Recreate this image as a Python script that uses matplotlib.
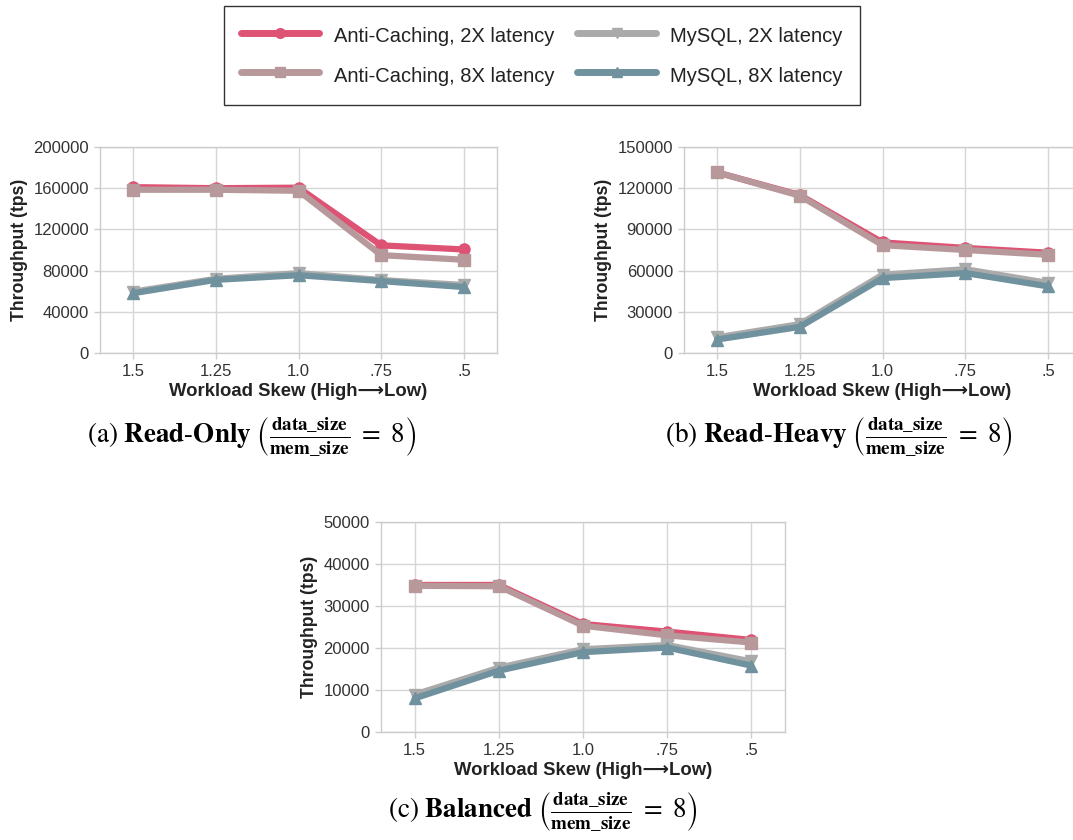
import matplotlib
matplotlib.use("Agg")
import matplotlib.pyplot as plt
from matplotlib.lines import Line2D

plt.rcParams['mathtext.fontset'] = 'stix'

categories = ["1.5", "1.25", "1.0", ".75", ".5"]
series_names = ["Anti-Caching, 2X latency", "Anti-Caching, 8X latency",
                "MySQL, 2X latency", "MySQL, 8X latency"]

# Read-Only
ro_ac2 = [161000, 160000, 160500, 104500, 100500]
ro_ac8 = [158500, 158500, 157500, 95000, 90500]
ro_my2 = [59500, 72000, 77500, 70800, 66000]
ro_my8 = [58000, 71000, 75500, 69800, 64000]

# Read-Heavy
rh_ac2 = [131500, 115000, 80500, 76500, 73000]
rh_ac8 = [131500, 114500, 78500, 75000, 71500]
rh_my2 = [11400, 21000, 57000, 61000, 51000]
rh_my8 = [9800, 19000, 54500, 58200, 48500]

# Balanced
ba_ac2 = [35000, 35000, 25700, 23900, 21900]
ba_ac8 = [34800, 34700, 25300, 23000, 21300]
ba_my2 = [8900, 15300, 19700, 20700, 16800]
ba_my8 = [8000, 14600, 19000, 20100, 15800]

yticks_ro = [0, 40000, 80000, 120000, 160000, 200000]
yticks_rh = [0, 30000, 60000, 90000, 120000, 150000]
yticks_ba = [0, 10000, 20000, 30000, 40000, 50000]

titles = [
    r"$\mathrm{(a)}\ \mathbf{Read}\text{-}\mathbf{Only}\ \left(\frac{\mathbf{data\_size}}{\mathbf{mem\_size}}\ =\ 8\right)$",
    r"$\mathrm{(b)}\ \mathbf{Read}\text{-}\mathbf{Heavy}\ \left(\frac{\mathbf{data\_size}}{\mathbf{mem\_size}}\ =\ 8\right)$",
    r"$\mathrm{(c)}\ \mathbf{Balanced}\ \left(\frac{\mathbf{data\_size}}{\mathbf{mem\_size}}\ =\ 8\right)$",
]

colors = ["#DE5273", "#B8999B", "#AAAAAA", "#6F929E"]
markers = ["o", "s", "v", "^"]

sans = ['Liberation Sans', 'DejaVu Sans']

fig = plt.figure(figsize=(10.73, 8.40), dpi=100)

axes_rects = [
    [0.0932, 0.5798, 0.370, 0.2452],
    [0.6375, 0.5798, 0.370, 0.2452],
    [0.3551, 0.1286, 0.3765, 0.2500],
]
datasets = [
    ([ro_ac2, ro_ac8, ro_my2, ro_my8], yticks_ro),
    ([rh_ac2, rh_ac8, rh_my2, rh_my8], yticks_rh),
    ([ba_ac2, ba_ac8, ba_my2, ba_my8], yticks_ba),
]
title_pos = [(0.235, 0.479), (0.782, 0.479), (0.506, 0.033)]

x = list(range(len(categories)))
for rect, (series, yt), title, tp in zip(axes_rects, datasets, titles, title_pos):
    ax = fig.add_axes(rect)
    for s, c, m, name in zip(series, colors, markers, series_names):
        ax.plot(x, s, color=c, lw=4.5, marker=m, markersize=8,
                solid_capstyle='round', label=name, zorder=3)
    ax.set_xlim(-0.4, 4.4)
    ax.set_ylim(yt[0], yt[-1])
    ax.set_xticks(x)
    ax.set_xticklabels(categories)
    ax.set_yticks(yt)
    ax.set_yticklabels([str(v) for v in yt])
    ax.grid(True, color="#D6D6D6", lw=1)
    ax.set_axisbelow(True)
    for sp in ax.spines.values():
        sp.set_color("#CCCCCC")
        sp.set_linewidth(1)
    ax.tick_params(axis='both', colors="#CCCCCC", length=4, width=1,
                   labelcolor="#333333", labelsize=12, pad=4)
    for lab in ax.get_xticklabels() + ax.get_yticklabels():
        lab.set_family(sans)
    ax.set_ylabel("Throughput (tps)", family=sans, fontweight='bold',
                  fontsize=12.7, color="#222222", labelpad=4)
    ax.set_xlabel("Workload Skew (High\u27f6Low)", family=sans, fontweight='bold',
                  fontsize=13.3, color="#222222", labelpad=3)
    fig.text(tp[0], tp[1], title, ha='center', va='center', fontsize=19.5,
             family='STIXGeneral', color='black')

handles = [Line2D([0], [0], color=c, lw=5, marker=m, markersize=7,
                  solid_capstyle='round') for c, m in zip(colors, markers)]
leg = fig.legend(handles, series_names, loc='center', bbox_to_anchor=(0.505, 0.934),
                 ncol=2, frameon=True, fancybox=False, edgecolor='black',
                 handlelength=3.9, handleheight=1.5, columnspacing=1.15,
                 labelspacing=0.75, borderpad=0.85, handletextpad=0.72,
                 prop={'family': sans, 'size': 14.5})
leg.get_frame().set_linewidth(1.0)
for t in leg.get_texts():
    t.set_color("#222222")

fig.savefig("out.png", dpi=100)
